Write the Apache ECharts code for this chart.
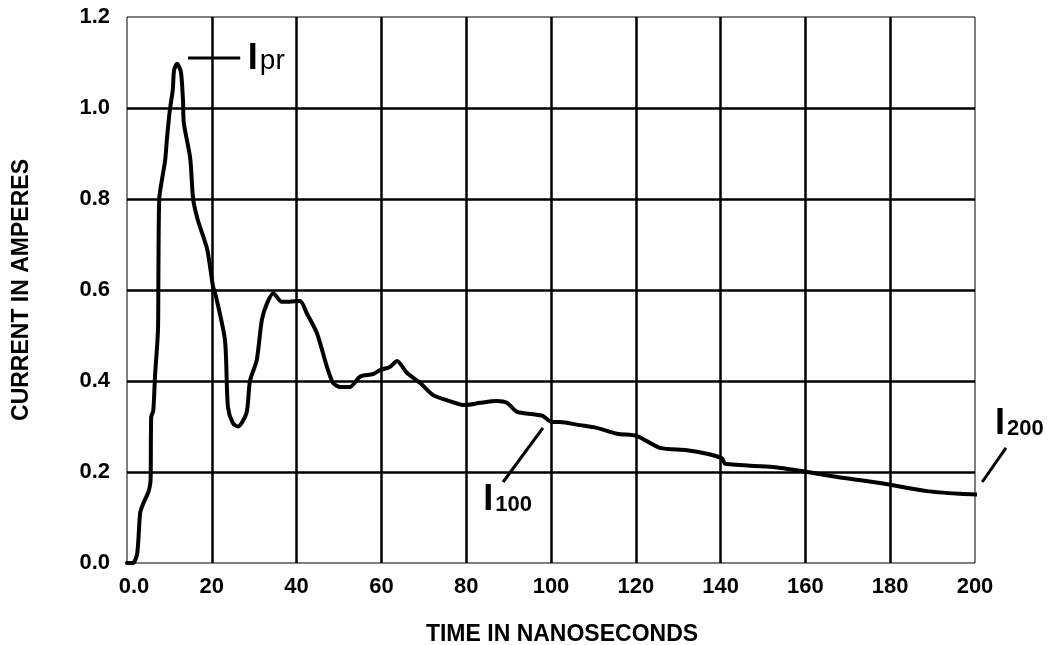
<!DOCTYPE html>
<html>
<head>
<meta charset="utf-8">
<title>Current vs time</title>
<script src="https://cdn.jsdelivr.net/npm/echarts@6/dist/echarts.min.js"></script>
<style>
  html, body { margin: 0; padding: 0; background: #fff; }
  #main { width: 1054px; height: 645px; }
</style>
</head>
<body>
<div id="main"></div>
<script>
// ns / amperes
const timeNs = [
  0, 1.4, 2.4, 3.1, 3.8, 5.0, 5.5, 5.6, 5.7, 6.2, 6.6, 7.3, 7.4, 7.6, 8.2, 9.0, 9.4,
  10.1, 10.8, 11.1, 11.8, 12.7, 13.2, 13.4, 14.9, 15.6, 16.7, 18.9, 20.3, 20.8,
  23.1, 23.8, 25.0, 26.2, 28.2, 29.0, 30.6, 31.8, 33.0, 34.5, 36.5, 37.7, 40.8,
  42.4, 44.8, 47.2, 48.6, 50.2, 52.6, 55.0, 58.0, 59.7, 62.0, 63.7, 66.0, 69.1,
  72.2, 75.4, 79.7, 83.3, 87.2, 89.6, 92.0, 95.8, 98.1, 100.2, 102.1, 106.8,
  110.8, 115.6, 120.3, 125.7, 132.1, 136.8, 140.3, 141.1, 152.4, 160.4, 167.5,
  177.6, 188.7, 196.5, 201.7
]
const currentA = [
  0, 0, 0.02, 0.11, 0.13, 0.155, 0.175, 0.2, 0.32, 0.335, 0.41, 0.51, 0.62, 0.8,
  0.84, 0.885, 0.93, 0.995, 1.04, 1.083, 1.097, 1.08, 1.018, 0.967, 0.89, 0.8,
  0.754, 0.69, 0.607, 0.593, 0.49, 0.343, 0.307, 0.3, 0.33, 0.4, 0.446, 0.534,
  0.57, 0.593, 0.574, 0.574, 0.576, 0.549, 0.505, 0.43, 0.396, 0.387, 0.387,
  0.41, 0.415, 0.424, 0.431, 0.444, 0.418, 0.396, 0.369, 0.358, 0.347, 0.352,
  0.356, 0.352, 0.332, 0.327, 0.323, 0.31, 0.31, 0.303, 0.297, 0.284, 0.279,
  0.253, 0.248, 0.24, 0.23, 0.218, 0.211, 0.2, 0.189, 0.176, 0.158, 0.152, 0.15
]

// I labels: subscript text, where the "I" sits and its leader line (data coords)
const annotSub = ['pr', '100', '200']
const annotAt = [[28.5, 1.081], [84.0, 0.110], [204.7, 0.277]]
const annotFrom = [[14.4, 1.110], [88.7, 0.178], [201.7, 0.178]]
const annotTo = [[26.7, 1.110], [98.1, 0.297], [207.3, 0.253]]

const FONT = "'Liberation Sans', Arial, sans-serif"

var chartDom = document.getElementById('main')
var myChart = echarts.init(chartDom)
var option

option = {
  animation: false,
  backgroundColor: '#fff',
  grid: {
    left: 127,
    right: 79,
    top: 17,
    bottom: 82,
    outerBoundsMode: 'none',
    show: true,
    borderColor: '#000',
    borderWidth: 1
  },
  xAxis: {
    type: 'value',
    min: 0,
    max: 200,
    interval: 20,
    name: 'TIME IN NANOSECONDS',
    nameLocation: 'middle',
    nameGap: 60,
    nameTextStyle: {
      color: '#000',
      fontFamily: FONT,
      fontWeight: 'bold',
      fontSize: 23,
      padding: [0, 0, 0, 22]
    },
    axisLine: { show: false },
    axisTick: { show: false },
    axisLabel: {
      color: '#000',
      fontFamily: FONT,
      fontWeight: 'bold',
      fontSize: 22,
      margin: 13,
      formatter: function (v) {
        return v === 0 ? '{z|0.0}' : String(v)
      },
      rich: {
        z: { fontFamily: FONT, fontWeight: 'bold', fontSize: 22, color: '#000', padding: [0, 0, 0, 14] }
      }
    },
    splitLine: {
      show: true,
      showMinLine: false,
      showMaxLine: false,
      lineStyle: { color: '#000', width: 2.5 }
    }
  },
  yAxis: {
    type: 'value',
    min: 0,
    max: 1.2,
    interval: 0.2,
    name: 'CURRENT IN AMPERES',
    nameLocation: 'middle',
    nameGap: 94,
    nameRotate: 90,
    nameTextStyle: {
      color: '#000',
      fontFamily: FONT,
      fontWeight: 'bold',
      fontSize: 23
    },
    axisLine: { show: false },
    axisTick: { show: false },
    axisLabel: {
      color: '#000',
      fontFamily: FONT,
      fontWeight: 'bold',
      fontSize: 22,
      margin: 17,
      formatter: function (v) {
        return v.toFixed(1)
      }
    },
    splitLine: {
      show: true,
      showMinLine: false,
      showMaxLine: false,
      lineStyle: { color: '#000', width: 2.5 }
    }
  },
  series: [
    {
      name: 'Current',
      type: 'line',
      data: timeNs.map((t, i) => [t, currentA[i]]),
      showSymbol: false,
      clip: false,
      smooth: 0.25,
      z: 5,
      lineStyle: { color: '#000', width: 4, join: 'round', cap: 'round' }
    }
  ]
}

option && myChart.setOption(option)

// place the I annotations once the scales exist
const toPx = (p) => myChart.convertToPixel({ gridIndex: 0 }, p)
const graphics = []
annotSub.forEach((sub, i) => {
  const a = toPx(annotFrom[i])
  const b = toPx(annotTo[i])
  graphics.push({
    type: 'line',
    shape: { x1: a[0], y1: a[1], x2: b[0], y2: b[1] },
    style: { stroke: '#000', lineWidth: 3 },
    z: 10
  })
  const p = toPx(annotAt[i])
  graphics.push({
    type: 'text',
    x: p[0],
    y: p[1] - 12.5,
    style: {
      text: 'I',
      fill: '#000',
      font: 'bold 36px ' + FONT,
      verticalAlign: 'middle'
    },
    z: 10
  })
  const isPr = sub === 'pr'
  const fs = isPr ? 28 : 22
  graphics.push({
    type: 'text',
    x: p[0] + 12,
    y: p[1] - fs * 0.3465,
    style: {
      text: sub,
      fill: '#000',
      font: (isPr ? 'normal ' : 'bold ') + fs + 'px ' + FONT,
      verticalAlign: 'middle'
    },
    z: 10
  })
})
myChart.setOption({ graphic: graphics })
</script>
</body>
</html>
